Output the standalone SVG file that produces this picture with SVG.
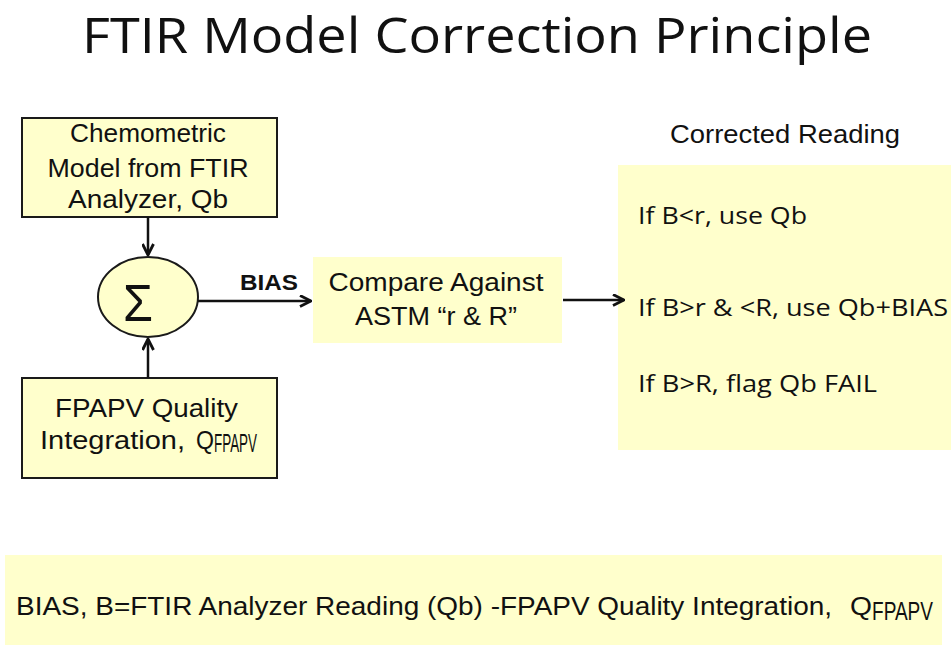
<svg xmlns="http://www.w3.org/2000/svg" width="951" height="652" viewBox="0 0 951 652">
<style>
.box{fill:#FFFFCC;stroke:#1a1a1a;stroke-width:2}
.pad{fill:#FFFFCC}
.t{font-family:"Liberation Sans",Arial,sans-serif;font-size:25px;fill:#111}
.c{font-family:"Open Sans","Liberation Sans",sans-serif;font-size:24px;fill:#111}
.ln{stroke:#111;stroke-width:2.5;fill:none}
</style>
<defs>
<marker id="ah" viewBox="0 0 13 13" refX="12" refY="6.5" markerWidth="13" markerHeight="13" markerUnits="userSpaceOnUse" orient="auto">
<path d="M1,1 L12,6.5 L1,12" fill="none" stroke="#111" stroke-width="2.8"/>
</marker>
</defs>
<rect width="951" height="652" fill="#fff"/>
<text x="82" y="53" font-family="'Open Sans','Liberation Sans',sans-serif" font-size="49" fill="#111" textLength="790" lengthAdjust="spacingAndGlyphs">FTIR Model Correction Principle</text>

<g id="chemometric">
<rect class="box" x="22" y="118" width="255" height="99"/>
<text class="t" x="148" y="142" text-anchor="middle" textLength="156" lengthAdjust="spacingAndGlyphs">Chemometric</text>
<text class="t" x="148" y="177" text-anchor="middle" textLength="201" lengthAdjust="spacingAndGlyphs">Model from FTIR</text>
<text class="t" x="148" y="208" text-anchor="middle" textLength="160" lengthAdjust="spacingAndGlyphs">Analyzer, Qb</text>
</g>

<g id="sum">
<ellipse cx="148" cy="297" rx="50" ry="40" fill="#FFFFCC" stroke="#1a1a1a" stroke-width="2"/>
<text x="138" y="321" text-anchor="middle" font-family="'Liberation Sans',Arial,sans-serif" font-size="52" fill="#111" textLength="30" lengthAdjust="spacingAndGlyphs">Σ</text>
</g>

<g id="fpapv">
<rect class="box" x="22" y="378" width="255" height="100"/>
<text class="t" x="55" y="417" textLength="183" lengthAdjust="spacingAndGlyphs">FPAPV Quality</text>
<text class="t" x="40" y="449" textLength="145" lengthAdjust="spacingAndGlyphs">Integration,</text>
<text class="t" x="196" y="449" textLength="18" lengthAdjust="spacingAndGlyphs">Q</text>
<text class="t" x="214" y="452" font-size="15" textLength="43" lengthAdjust="spacingAndGlyphs">FPAPV</text>
</g>

<g id="compare">
<rect class="pad" x="313" y="257" width="249" height="86"/>
<text class="t" x="436" y="291" text-anchor="middle" textLength="215" lengthAdjust="spacingAndGlyphs">Compare Against</text>
<text class="t" x="436" y="325" text-anchor="middle" textLength="162" lengthAdjust="spacingAndGlyphs">ASTM “r &amp; R”</text>
</g>

<g id="corrected">
<text class="t" x="785" y="143" text-anchor="middle" textLength="230" lengthAdjust="spacingAndGlyphs">Corrected Reading</text>
<rect class="pad" x="618" y="165" width="333" height="285"/>
<text class="c" x="638" y="224" textLength="169" lengthAdjust="spacingAndGlyphs">If B&lt;r, use Qb</text>
<text class="c" x="638" y="316" textLength="310" lengthAdjust="spacingAndGlyphs">If B&gt;r &amp; &lt;R, use Qb+BIAS</text>
<text class="c" x="638" y="392" textLength="239" lengthAdjust="spacingAndGlyphs">If B&gt;R, flag Qb FAIL</text>
</g>

<g id="definition">
<rect class="pad" x="5" y="555" width="937" height="90"/>
<text class="t" x="16" y="615" font-size="27" textLength="816" lengthAdjust="spacingAndGlyphs">BIAS, B=FTIR Analyzer Reading (Qb) -FPAPV Quality Integration,</text>
<text class="t" x="850" y="615" font-size="27" textLength="22" lengthAdjust="spacingAndGlyphs">Q</text>
<text class="t" x="872" y="620" font-size="19" textLength="61" lengthAdjust="spacingAndGlyphs">FPAPV</text>
</g>

<g id="connectors">
<line class="ln" x1="148" y1="217" x2="148" y2="255" marker-end="url(#ah)"/>
<line class="ln" x1="148" y1="378" x2="148" y2="339" marker-end="url(#ah)"/>
<line class="ln" x1="198" y1="301" x2="311" y2="301" marker-end="url(#ah)"/>
<line class="ln" x1="563" y1="300" x2="624" y2="300" marker-end="url(#ah)"/>
<text x="240" y="290" font-family="'Liberation Sans',Arial,sans-serif" font-size="22" font-weight="bold" fill="#111" textLength="58" lengthAdjust="spacingAndGlyphs">BIAS</text>
</g>
</svg>
